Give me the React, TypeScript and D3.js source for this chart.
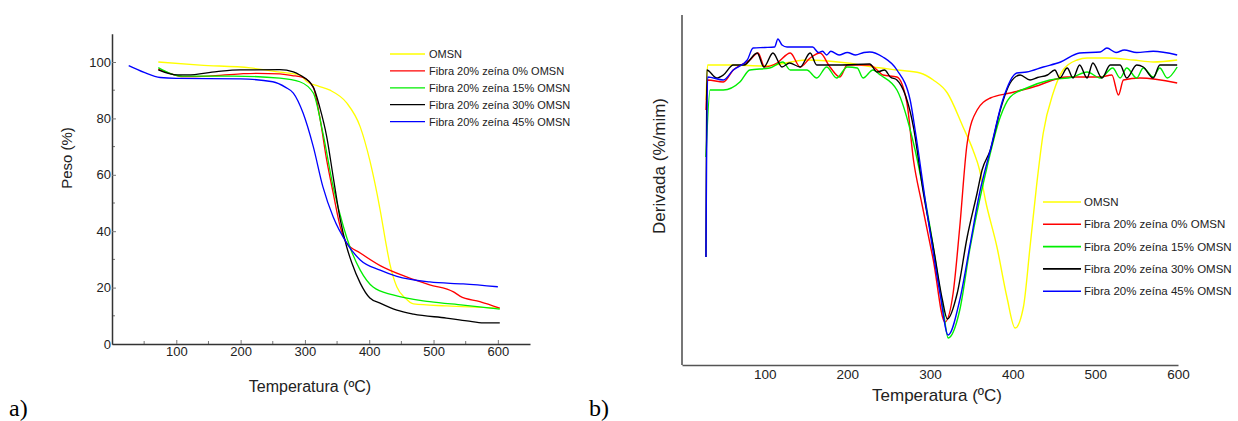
import React, { useEffect, useRef } from "react";
import * as d3 from "d3";

type Pt = [number, number];

const seriesLabels = [
  "OMSN",
  "Fibra 20% zeína 0% OMSN",
  "Fibra 20% zeína 15% OMSN",
  "Fibra 20% zeína 30% OMSN",
  "Fibra 20% zeína 45% OMSN",
];
const seriesColors = ["#ffff00", "#ff0000", "#00ee00", "#000000", "#0000ff"];

const tgTicks = [0, 20, 40, 60, 80, 100];
const tempTicksA = [100, 200, 300, 400, 500, 600];
const tempTicksB = [100, 200, 300, 400, 500, 600];

// a) peso (%) vs temperatura
const tgOMSN: Pt[] = [
  [72, 100], [137, 98.9], [215, 97.9], [261, 96.4], [292, 95.4], [303, 93], [320, 91.5],
  [339, 90], [365, 85.5], [386, 77], [401, 65], [417, 47.5], [427, 34.4], [432, 28.5],
  [443, 20.2], [456, 16.3], [469, 14.2], [520, 13.5], [603, 12.7],
];
const tgZ0: Pt[] = [
  [72, 97.5], [90, 96], [110, 94.8], [150, 95], [200, 95.8], [225, 96], [261, 95.8],
  [280, 95.2], [297, 94.5], [313, 91], [323, 80.5], [334, 65], [344, 53.5], [355, 41.5],
  [365, 35.8], [386, 32.3], [417, 27.8], [458, 23.8], [494, 21], [531, 18.5], [541, 17],
  [572, 15], [603, 12.7],
];
const tgZ15: Pt[] = [
  [72, 98], [90, 96], [110, 95], [189, 95], [261, 94.3], [292, 93], [313, 89], [328, 74.8],
  [344, 55.7], [360, 41.5], [370, 34.4], [386, 26.2], [406, 20.2], [437, 17.4], [494, 15],
  [546, 13.8], [603, 12.4],
];
const tgZ30: Pt[] = [
  [72, 97.2], [101, 95.4], [117, 95.4], [163, 96.6], [199, 97.2], [261, 97.3], [282, 96.5],
  [292, 95.4], [313, 91.1], [323, 84], [334, 73.4], [344, 59.2], [355, 44], [365, 34.4],
  [373, 28.7], [386, 21.6], [401, 16.3], [417, 14.5], [443, 12], [469, 10.6], [520, 9.2],
  [552, 8.2], [578, 7.5], [603, 7.5],
];
const tgZ45: Pt[] = [
  [26, 98.7], [50, 96.3], [75, 94.5], [100, 94.2], [200, 94], [250, 93], [270, 91],
  [282, 89], [297, 82], [313, 70], [328, 55.7], [344, 45], [365, 35.8], [386, 29.8],
  [417, 26.2], [443, 24], [494, 22], [546, 21.3], [600, 20.3],
];

// b) derivada vs temperatura
const dtgOMSN: Pt[] = [
  [29, -3.4], [31, -2.0], [60, -2.0], [100, -2.04], [151, -1.8], [200, -1.92], [231, -2.08],
  [260, -2.2], [288, -2.32], [304, -2.6], [321, -3.12], [340, -4.48], [352, -5.4], [360, -6.2],
  [367, -7.4], [381, -9.28], [393, -11.28], [403, -12.52], [413, -11.68], [421, -9.28],
  [429, -6.8], [437, -4.72], [449, -3.12], [461, -2.2], [478, -1.8], [490, -1.72], [514, -1.72],
  [546, -1.8], [570, -1.88], [599, -1.8],
];
const dtgZ0: Pt[] = [
  [29, -3.8], [31, -2.6], [50, -2.68], [62, -2.2], [82, -1.8], [92, -1.52], [100, -2.08],
  [115, -1.92], [131, -1.52], [143, -2.08], [155, -1.72], [167, -1.52], [179, -2.08],
  [191, -2.48], [200, -2.0], [227, -2.0], [236, -2.2], [243, -2.4], [260, -2.48], [272, -3.5],
  [280, -5.8], [290, -7.52], [304, -9.8], [318, -12.28], [328, -11.12], [336, -8.48],
  [345, -5.12], [357, -3.8], [373, -3.32], [397, -3.12], [425, -2.88], [466, -2.48],
  [506, -2.48], [520, -2.4], [528, -3.2], [534, -2.6], [554, -2.52], [599, -2.72],
];
const dtgZ15: Pt[] = [
  [29, -5.68], [34, -3.0], [50, -3.0], [70, -2.68], [82, -2.2], [106, -2.12], [122, -1.88],
  [131, -2.2], [151, -2.2], [163, -2.52], [175, -2.08], [187, -2.52], [200, -2.08],
  [212, -2.12], [219, -2.52], [231, -2.2], [240, -2.4], [260, -3.0], [280, -5.12],
  [300, -8.48], [316, -11.8], [322, -12.92], [336, -11.8], [348, -9.4], [360, -7.4],
  [369, -6.08], [385, -4.08], [397, -3.28], [417, -2.92], [445, -2.6], [473, -2.48],
  [490, -2.28], [506, -2.52], [521, -2.12], [530, -2.52], [538, -2.12], [550, -2.52],
  [558, -2.12], [570, -2.48], [578, -2.12], [587, -2.52], [599, -2.08],
];
const dtgZ30: Pt[] = [
  [29, -9.68], [30, -2.2], [42, -2.52], [50, -2.4], [62, -2.0], [75, -2.0], [91, -1.52],
  [99, -2.08], [110, -1.52], [121, -2.08], [130, -1.92], [143, -2.08], [155, -1.52],
  [163, -2.0], [190, -2.0], [227, -1.96], [236, -2.28], [245, -2.2], [252, -2.48],
  [260, -2.6], [280, -4.48], [292, -7.12], [304, -9.28], [315, -11.4], [321, -12.16],
  [333, -11.12], [345, -8.88], [357, -7.12], [363, -6.2], [373, -5.4], [385, -3.8],
  [397, -2.72], [409, -2.4], [421, -2.6], [430, -2.5], [442, -2.4], [451, -2.2], [457, -2.52],
  [466, -2.12], [473, -2.52], [481, -2.0], [490, -2.52], [497, -1.92], [508, -2.52],
  [518, -2.0], [530, -2.0], [538, -2.52], [550, -2.0], [558, -2.08], [570, -2.52],
  [578, -2.0], [599, -2.0],
];
const dtgZ45: Pt[] = [
  [29, -9.68], [31, -2.48], [50, -2.6], [62, -2.2], [79, -1.8], [86, -1.32], [100, -1.3],
  [112, -1.28], [116, -0.96], [121, -1.2], [127, -1.28], [158, -1.28], [165, -1.5],
  [170, -1.45], [175, -1.6], [180, -1.45], [190, -1.6], [200, -1.5], [210, -1.6],
  [220, -1.5], [227, -1.48], [243, -1.68], [260, -2.2], [276, -3.4], [282, -4.6],
  [296, -7.8], [312, -11.12], [322, -12.8], [336, -11.4], [348, -9.28], [360, -7.12],
  [373, -5.4], [388, -3.4], [405, -2.32], [417, -2.28], [437, -2.08], [458, -1.88],
  [481, -1.52], [506, -1.48], [514, -1.32], [525, -1.5], [535, -1.4], [550, -1.5],
  [570, -1.45], [599, -1.6],
];

const tgSeries = [tgOMSN, tgZ0, tgZ15, tgZ30, tgZ45];
const dtgSeries = [dtgOMSN, dtgZ0, dtgZ15, dtgZ30, dtgZ45];

const FONT = "'Liberation Sans', Arial, sans-serif";

export default function App() {
  const ref = useRef<SVGSVGElement>(null);

  useEffect(() => {
    const svg = d3.select(ref.current);
    svg.selectAll("*").remove();

    // ---------- a) ----------
    const xA = d3.scaleLinear().domain([0, 650]).range([112, 530]);
    const yA = d3.scaleLinear().domain([0, 110]).range([344, 33.8]);
    const gA = svg.append("g");

    const lineA = d3
      .line<Pt>()
      .x((d) => xA(d[0]))
      .y((d) => yA(d[1]))
      .curve(d3.curveMonotoneX);

    gA.selectAll("path.tg")
      .data(tgSeries)
      .join("path")
      .attr("class", "tg")
      .attr("d", (d) => lineA(d))
      .attr("fill", "none")
      .attr("stroke", (_, i) => seriesColors[i])
      .attr("stroke-width", 1.3);

    // minor ticks
    const minorY = d3.range(10, 110, 20);
    gA.selectAll("line.my")
      .data(minorY)
      .join("line")
      .attr("x1", 112)
      .attr("x2", 115)
      .attr("y1", (d) => yA(d))
      .attr("y2", (d) => yA(d))
      .attr("stroke", "#777");
    const minorX = d3.range(50, 650, 100);
    gA.selectAll("line.mx")
      .data(minorX)
      .join("line")
      .attr("x1", (d) => xA(d))
      .attr("x2", (d) => xA(d))
      .attr("y1", 344)
      .attr("y2", 341)
      .attr("stroke", "#777");

    const axYA = gA
      .append("g")
      .attr("transform", "translate(112,0)")
      .call(d3.axisLeft(yA).tickValues(tgTicks).tickSizeInner(-4).tickSizeOuter(0).tickPadding(1));
    const axXA = gA
      .append("g")
      .attr("transform", "translate(0,344)")
      .call(d3.axisBottom(xA).tickValues(tempTicksA).tickSizeInner(-4).tickSizeOuter(0).tickPadding(3));
    [axYA, axXA].forEach((ax) => {
      ax.select(".domain").attr("stroke", "#333").attr("stroke-width", 1.5);
      ax.selectAll(".tick line").attr("stroke", "#777");
      ax.selectAll(".tick text").attr("font-family", FONT).attr("font-size", 13).attr("fill", "#222");
    });

    gA.append("text")
      .attr("x", 310)
      .attr("y", 392)
      .attr("text-anchor", "middle")
      .attr("font-family", FONT)
      .attr("font-size", 16)
      .attr("fill", "#222")
      .text("Temperatura (ºC)");
    gA.append("text")
      .attr("transform", "translate(72,158) rotate(-90)")
      .attr("text-anchor", "middle")
      .attr("font-family", FONT)
      .attr("font-size", 15)
      .attr("fill", "#222")
      .text("Peso (%)");

    const legA = gA.append("g").attr("transform", "translate(390,54)");
    seriesLabels.forEach((lab, i) => {
      const yy = i * 16.9;
      legA.append("line").attr("x1", 0).attr("x2", 35).attr("y1", yy).attr("y2", yy)
        .attr("stroke", seriesColors[i]).attr("stroke-width", 1.3);
      legA.append("text").attr("x", 39).attr("y", yy + 4).attr("font-family", FONT)
        .attr("font-size", 11).attr("fill", "#222").text(lab);
    });

    // ---------- b) ----------
    const xB = d3.scaleLinear().domain([0, 600]).range([682, 1178]);
    const yB = d3.scaleLinear().domain([-14, 0]).range([365, 15]);
    const gB = svg.append("g");

    const lineB = d3
      .line<Pt>()
      .x((d) => xB(d[0]))
      .y((d) => yB(d[1]))
      .curve(d3.curveMonotoneX);

    gB.selectAll("path.dtg")
      .data(dtgSeries)
      .join("path")
      .attr("class", "dtg")
      .attr("d", (d) => lineB(d))
      .attr("fill", "none")
      .attr("stroke", (_, i) => seriesColors[i])
      .attr("stroke-width", 1.4);

    gB.append("line").attr("x1", 682).attr("x2", 682).attr("y1", 15).attr("y2", 365)
      .attr("stroke", "#555").attr("stroke-width", 1.6);
    const axXB = gB
      .append("g")
      .attr("transform", "translate(0,365)")
      .call(d3.axisBottom(xB).tickValues(tempTicksB).tickSize(0).tickPadding(4));
    axXB.select(".domain").attr("stroke", "#555").attr("stroke-width", 1.6);
    axXB.selectAll(".tick text").attr("font-family", FONT).attr("font-size", 13.5).attr("fill", "#222");

    gB.append("text")
      .attr("x", 937)
      .attr("y", 401)
      .attr("text-anchor", "middle")
      .attr("font-family", FONT)
      .attr("font-size", 17)
      .attr("fill", "#222")
      .text("Temperatura (ºC)");
    gB.append("text")
      .attr("transform", "translate(665,166) rotate(-90)")
      .attr("text-anchor", "middle")
      .attr("font-family", FONT)
      .attr("font-size", 17)
      .attr("fill", "#222")
      .text("Derivada (%/mim)");

    const legB = gB.append("g").attr("transform", "translate(1043,202)");
    seriesLabels.forEach((lab, i) => {
      const yy = i * 22.3;
      legB.append("line").attr("x1", 0).attr("x2", 38).attr("y1", yy).attr("y2", yy)
        .attr("stroke", seriesColors[i]).attr("stroke-width", 1.6);
      legB.append("text").attr("x", 41).attr("y", yy + 4).attr("font-family", FONT)
        .attr("font-size", 11.5).attr("fill", "#222").text(lab);
    });

    // panel letters
    svg.append("text").attr("x", 9).attr("y", 416).attr("font-family", "'Liberation Serif', 'Times New Roman', serif")
      .attr("font-size", 24).text("a)");
    svg.append("text").attr("x", 589).attr("y", 416).attr("font-family", "'Liberation Serif', 'Times New Roman', serif")
      .attr("font-size", 24).text("b)");
  }, []);

  return (
    <svg
      ref={ref}
      width={1238}
      height={421}
      style={{ position: "absolute", left: 0, top: 0, background: "#fff" }}
    />
  );
}
